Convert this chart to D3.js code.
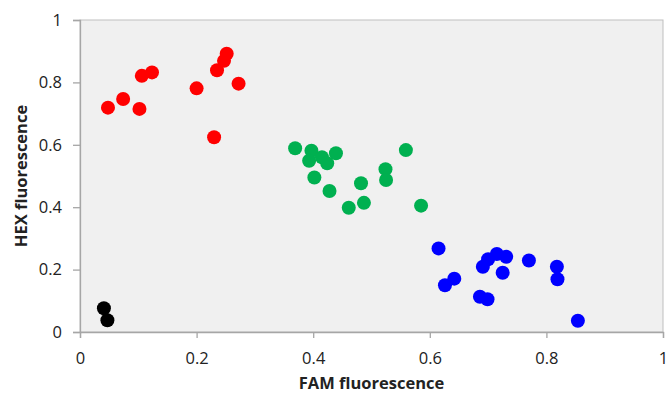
<!DOCTYPE html>
<html><head><meta charset="utf-8">
<script src="https://cdn.jsdelivr.net/npm/d3@7"></script>
<style>body{margin:0;background:#fff}svg{display:block}</style>
</head><body><svg id="c" width="668" height="394"></svg>
<script>
const redX = [0.048,0.074,0.102,0.106,0.1235,0.200,0.230,0.235,0.247,0.2516,0.272];
const redY = [0.719,0.747,0.715,0.821,0.832,0.781,0.624,0.839,0.869,0.892,0.796];
const greenX = [0.369,0.397,0.393,0.415,0.424,0.439,0.402,0.428,0.461,0.482,0.487,0.524,0.525,0.559,0.585];
const greenY = [0.589,0.581,0.549,0.560,0.541,0.573,0.495,0.452,0.398,0.477,0.414,0.522,0.487,0.583,0.405];
const blueX = [0.615,0.642,0.626,0.691,0.700,0.715,0.731,0.725,0.686,0.699,0.770,0.818,0.819,0.854];
const blueY = [0.268,0.171,0.150,0.209,0.233,0.250,0.241,0.190,0.113,0.105,0.229,0.209,0.169,0.036];
const blackX = [0.041,0.047];
const blackY = [0.076,0.0375];
const xTicks = [0,0.2,0.4,0.6,0.8,1];
const yTicks = [0,0.2,0.4,0.6,0.8,1];
const xTickLabels = ["0","0.2","0.4","0.6","0.8","1"];
const yTickLabels = ["0","0.2","0.4","0.6","0.8","1"];
const xTitle = "FAM fluorescence", yTitle = "HEX fluorescence";

const series = [
  {x: blackX, y: blackY, color: "#000000"},
  {x: redX, y: redY, color: "#ff0000"},
  {x: greenX, y: greenY, color: "#00b050"},
  {x: blueX, y: blueY, color: "#0000ff"}
];

const svg = d3.select("#c");
const L = 80, R = 663, T = 20, B = 332;
const x = d3.scaleLinear().domain([0,1]).range([L,R]);
const y = d3.scaleLinear().domain([0,1]).range([B,T]);
const font = "'Open Sans', sans-serif";
const axisColor = "#a6a6a6";

svg.append("rect").attr("x",L).attr("y",T).attr("width",R-L).attr("height",B-T)
  .attr("fill","#f0f0f0").attr("stroke","#bfbfbf").attr("stroke-width",1);

const xa = svg.append("g").attr("transform",`translate(0,${B})`)
  .call(d3.axisBottom(x).tickValues(xTicks).tickFormat((d,i)=>xTickLabels[i]).tickSize(6).tickPadding(14));
const ya = svg.append("g").attr("transform",`translate(${L},0)`)
  .call(d3.axisLeft(y).tickValues(yTicks).tickFormat((d,i)=>yTickLabels[i]).tickSize(7).tickPadding(11));
[xa,ya].forEach(g=>{
  g.selectAll("path,line").attr("stroke",axisColor).attr("stroke-width",1.3);
  g.selectAll("text").attr("font-family",font).attr("font-size","16.5px").attr("fill","#222");
});

series.forEach(s=>{
  svg.append("g").selectAll("circle").data(s.x.map((v,i)=>[v,s.y[i]])).join("circle")
    .attr("cx",d=>x(d[0])).attr("cy",d=>y(d[1])).attr("r",7).attr("fill",s.color);
});

svg.append("text").attr("x",(L+R)/2).attr("y",389).attr("text-anchor","middle")
  .attr("font-family",font).attr("font-weight","bold").attr("font-size","16.5px").attr("fill","#222").text(xTitle);
svg.append("text").attr("transform",`translate(27,${(T+B)/2}) rotate(-90)`).attr("text-anchor","middle")
  .attr("font-family",font).attr("font-weight","bold").attr("font-size","16.5px").attr("fill","#222").text(yTitle);
</script></body></html>
